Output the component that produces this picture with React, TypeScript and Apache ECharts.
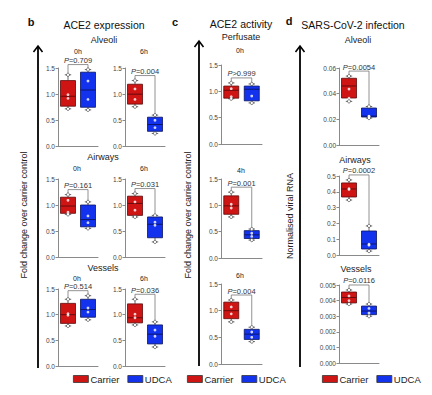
import React, { useEffect, useRef } from 'react';
import * as echarts from 'echarts';

const FONT = 'Liberation Sans, Arial, sans-serif';
const groups = ['Carrier', 'UDCA'];

// Box stats: [min, q1, median, q3, max]
const bAlveoli0hCarrier = [0.72, 0.77, 0.96, 1.26, 1.37];
const bAlveoli0hUDCA = [0.70, 0.75, 1.08, 1.42, 1.47];
const bAlveoli6hCarrier = [0.76, 0.81, 1.0, 1.19, 1.26];
const bAlveoli6hUDCA = [0.25, 0.29, 0.42, 0.56, 0.6];
const bAirways0hCarrier = [0.82, 0.84, 0.98, 1.15, 1.2];
const bAirways0hUDCA = [0.55, 0.58, 0.72, 1.0, 1.06];
const bAirways6hCarrier = [0.77, 0.8, 1.03, 1.17, 1.22];
const bAirways6hUDCA = [0.29, 0.37, 0.63, 0.77, 0.8];
const bVessels0hCarrier = [0.78, 0.83, 1.0, 1.22, 1.3];
const bVessels0hUDCA = [0.9, 0.95, 1.1, 1.3, 1.37];
const bVessels6hCarrier = [0.8, 0.84, 0.94, 1.21, 1.3];
const bVessels6hUDCA = [0.37, 0.43, 0.62, 0.8, 0.86];
const cPerfusate0hCarrier = [0.86, 0.87, 1.02, 1.1, 1.16];
const cPerfusate0hUDCA = [0.78, 0.82, 1.04, 1.1, 1.14];
const cPerfusate4hCarrier = [0.78, 0.83, 0.99, 1.18, 1.25];
const cPerfusate4hUDCA = [0.34, 0.37, 0.44, 0.52, 0.55];
const cPerfusate6hCarrier = [0.79, 0.85, 1.0, 1.16, 1.2];
const cPerfusate6hUDCA = [0.42, 0.46, 0.56, 0.65, 0.69];
const dAlveoliCarrier = [0.034, 0.0366, 0.046, 0.052, 0.0537];
const dAlveoliUDCA = [0.021, 0.0218, 0.0225, 0.0288, 0.03];
const dAirwaysCarrier = [0.348, 0.367, 0.418, 0.456, 0.475];
const dAirwaysUDCA = [0.025, 0.038, 0.07, 0.152, 0.184];
const dVesselsCarrier = [0.00378, 0.00385, 0.0042, 0.00455, 0.00468];
const dVesselsUDCA = [0.003, 0.0031, 0.00333, 0.00365, 0.00378];

// Inner data points
const bAlveoli0hCarrierPts = [0.99, 0.92];
const bAlveoli0hUDCAPts = [1.25, 0.9];
const bAlveoli6hCarrierPts = [1.1, 0.9];
const bAlveoli6hUDCAPts = [0.5, 0.36];
const bAirways0hCarrierPts = [1.09, 0.86];
const bAirways0hUDCAPts = [0.79, 0.66];
const bAirways6hCarrierPts = [1.06, 0.9];
const bAirways6hUDCAPts = [0.67, 0.61];
const bVessels0hCarrierPts = [1.02, 0.99];
const bVessels0hUDCAPts = [1.13, 1.05];
const bVessels6hCarrierPts = [1.01, 0.94];
const bVessels6hUDCAPts = [0.7, 0.58];
const cPerfusate0hCarrierPts = [1.05, 0.9];
const cPerfusate0hUDCAPts = [0.91];
const cPerfusate4hCarrierPts = [1.02, 0.95];
const cPerfusate4hUDCAPts = [0.47, 0.41];
const cPerfusate6hCarrierPts = [1.07, 0.94];
const cPerfusate6hUDCAPts = [0.6, 0.5];
const dAlveoliCarrierPts = [0.0436, 0.0365];
const dAlveoliUDCAPts = [0.0225, 0.0222];
const dAirwaysCarrierPts = [0.42, 0.415];
const dAirwaysUDCAPts = [0.068, 0.062];
const dVesselsCarrierPts = [0.0043, 0.004];
const dVesselsUDCAPts = [0.0035, 0.0032];

const pLabels = ['=0.709', '=0.004', '=0.161', '=0.031', '=0.514', '=0.036', '>0.999', '=0.001', '=0.004', '=0.0054', '=0.0002', '=0.0116'];

const foldScale = { max: 1.5, interval: 0.5, dec: 1 };
const dAlvScale = { max: 0.06, interval: 0.02, dec: 2 };
const dAwScale = { max: 0.5, interval: 0.1, dec: 1 };
const dVScale = { max: 0.005, interval: 0.001, dec: 3 };

const RED = '#cf1414';
const RED_EDGE = '#5c0a0a';
const BLUE = '#1232ee';
const BLUE_EDGE = '#0a1460';

const panels = [
  { c: bAlveoli0hCarrier, u: bAlveoli0hUDCA, cp: bAlveoli0hCarrierPts, up: bAlveoli0hUDCAPts, s: foldScale, left: 58, width: 40, top: 68, height: 78.5 },
  { c: bAlveoli6hCarrier, u: bAlveoli6hUDCA, cp: bAlveoli6hCarrierPts, up: bAlveoli6hUDCAPts, s: foldScale, left: 125, width: 40, top: 68, height: 78.5 },
  { c: bAirways0hCarrier, u: bAirways0hUDCA, cp: bAirways0hCarrierPts, up: bAirways0hUDCAPts, s: foldScale, left: 58, width: 40, top: 179, height: 78 },
  { c: bAirways6hCarrier, u: bAirways6hUDCA, cp: bAirways6hCarrierPts, up: bAirways6hUDCAPts, s: foldScale, left: 125, width: 40, top: 179, height: 78 },
  { c: bVessels0hCarrier, u: bVessels0hUDCA, cp: bVessels0hCarrierPts, up: bVessels0hUDCAPts, s: foldScale, left: 58, width: 40, top: 289, height: 77 },
  { c: bVessels6hCarrier, u: bVessels6hUDCA, cp: bVessels6hCarrierPts, up: bVessels6hUDCAPts, s: foldScale, left: 125, width: 40, top: 289, height: 77 },
  { c: cPerfusate0hCarrier, u: cPerfusate0hUDCA, cp: cPerfusate0hCarrierPts, up: cPerfusate0hUDCAPts, s: foldScale, left: 221, width: 41, top: 65, height: 79 },
  { c: cPerfusate4hCarrier, u: cPerfusate4hUDCA, cp: cPerfusate4hCarrierPts, up: cPerfusate4hUDCAPts, s: foldScale, left: 221, width: 41, top: 179, height: 79 },
  { c: cPerfusate6hCarrier, u: cPerfusate6hUDCA, cp: cPerfusate6hCarrierPts, up: cPerfusate6hUDCAPts, s: foldScale, left: 221, width: 41, top: 284, height: 80 },
  { c: dAlveoliCarrier, u: dAlveoliUDCA, cp: dAlveoliCarrierPts, up: dAlveoliUDCAPts, s: dAlvScale, left: 339, width: 40, top: 68, height: 77 },
  { c: dAirwaysCarrier, u: dAirwaysUDCA, cp: dAirwaysCarrierPts, up: dAirwaysUDCAPts, s: dAwScale, left: 339, width: 40, top: 176, height: 79 },
  { c: dVesselsCarrier, u: dVesselsUDCA, cp: dVesselsCarrierPts, up: dVesselsUDCAPts, s: dVScale, left: 339, width: 40, top: 285, height: 78 },
];

const renderBox = (fill: string, edge: string) => (params: any, api: any) => {
  const ci = api.value(0);
  const ys = [1, 2, 3, 4, 5].map((i) => api.coord([ci, api.value(i)])[1]);
  const cx = api.coord([ci, api.value(1)])[0];
  const hw = 7.5;
  const cw = 3.2;
  const wStyle = { stroke: '#444', lineWidth: 0.8 };
  return {
    type: 'group',
    children: [
      { type: 'line', shape: { x1: cx, y1: ys[4], x2: cx, y2: ys[3] }, style: wStyle },
      { type: 'line', shape: { x1: cx, y1: ys[1], x2: cx, y2: ys[0] }, style: wStyle },
      { type: 'line', shape: { x1: cx - cw, y1: ys[4], x2: cx + cw, y2: ys[4] }, style: wStyle },
      { type: 'line', shape: { x1: cx - cw, y1: ys[0], x2: cx + cw, y2: ys[0] }, style: wStyle },
      { type: 'rect', shape: { x: cx - hw, y: ys[3], width: hw * 2, height: ys[1] - ys[3] }, style: { fill, stroke: edge, lineWidth: 0.8 } },
      { type: 'line', shape: { x1: cx - hw, y1: ys[2], x2: cx + hw, y2: ys[2] }, style: { stroke: edge, lineWidth: 0.9 } },
      { type: 'circle', shape: { cx, cy: ys[4], r: 1.6 }, style: { fill: '#fff', stroke: '#444', lineWidth: 0.7 } },
      { type: 'circle', shape: { cx, cy: ys[0], r: 1.6 }, style: { fill: '#fff', stroke: '#444', lineWidth: 0.7 } },
    ],
  };
};

const txt = (text: string, x: number, y: number, size: number, extra: any = {}) => ({
  type: 'text',
  x,
  y,
  silent: true,
  style: {
    text,
    fontSize: size,
    fontFamily: FONT,
    fill: '#111',
    align: 'center',
    verticalAlign: 'middle',
    textAlign: 'center',
    textVerticalAlign: 'middle',
    ...extra,
  },
});

const arrow = (x: number, top: number, bottom: number) => [
  { type: 'line', shape: { x1: x, y1: top + 1, x2: x, y2: bottom }, style: { stroke: '#000', lineWidth: 1.8 } },
  { type: 'polyline', shape: { points: [[x - 4.5, top + 6], [x, top], [x + 4.5, top + 6]] }, style: { stroke: '#000', fill: 'none', lineWidth: 1.6 } },
];

export default function App() {
  const ref = useRef<HTMLDivElement>(null);
  useEffect(() => {
    const chart = echarts.init(ref.current!, undefined, { renderer: 'svg' });
    const grid: any[] = [];
    const xAxis: any[] = [];
    const yAxis: any[] = [];
    const series: any[] = [];
    panels.forEach((p, i) => {
      grid.push({ left: p.left, top: p.top, width: p.width, height: p.height });
      xAxis.push({
        type: 'category',
        gridIndex: i,
        data: groups,
        axisLine: { lineStyle: { color: '#8a8a8a', width: 1 } },
        axisTick: { show: false },
        axisLabel: { show: false },
      });
      yAxis.push({
        type: 'value',
        gridIndex: i,
        min: 0,
        max: p.s.max,
        interval: p.s.interval,
        splitLine: { show: false },
        axisLine: { show: true, lineStyle: { color: '#8a8a8a', width: 1 } },
        axisTick: { show: true, length: 2.5, lineStyle: { color: '#8a8a8a' } },
        axisLabel: {
          fontSize: 6.5,
          color: '#444',
          fontFamily: FONT,
          margin: 3,
          formatter: (v: number) => v.toFixed(p.s.dec),
        },
      });
      series.push({
        type: 'custom',
        name: 'Carrier',
        xAxisIndex: i,
        yAxisIndex: i,
        itemStyle: { color: RED, borderColor: RED_EDGE },
        renderItem: renderBox(RED, RED_EDGE),
        data: [[0, ...p.c]],
        z: 2,
      });
      series.push({
        type: 'custom',
        name: 'UDCA',
        xAxisIndex: i,
        yAxisIndex: i,
        itemStyle: { color: BLUE, borderColor: BLUE_EDGE },
        renderItem: renderBox(BLUE, BLUE_EDGE),
        data: [[1, ...p.u]],
        z: 2,
      });
      series.push({
        type: 'scatter',
        name: 'points',
        xAxisIndex: i,
        yAxisIndex: i,
        symbolSize: 2.8,
        itemStyle: { color: '#ffffff', borderWidth: 0 },
        data: [...p.cp.map((v) => [0, v]), ...p.up.map((v) => [1, v])],
        z: 3,
      });
    });

    const legendBase = {
      orient: 'horizontal',
      icon: 'rect',
      itemWidth: 15,
      itemHeight: 7,
      itemGap: 8,
      padding: 0,
      data: groups,
      selectedMode: false,
      itemStyle: { borderColor: '#333', borderWidth: 0.8 },
      textStyle: { fontSize: 9.5, color: '#222', fontFamily: FONT, padding: [0, 0, 0, -3] },
    };

    chart.setOption({
      animation: false,
      backgroundColor: '#ffffff',
      grid,
      xAxis,
      yAxis,
      series,
      legend: [
        { ...legendBase, left: 73, top: 374 },
        { ...legendBase, left: 187, top: 374 },
        { ...legendBase, left: 322, top: 374 },
      ],
    });

    const els: any[] = [
      txt('b', 31, 22, 11, { fontWeight: 'bold' }),
      txt('ACE2 expression', 104, 25, 10.5),
      txt('Alveoli', 104, 40, 9, { fill: '#222' }),
      txt('0h', 78, 51, 7, { fill: '#222' }),
      txt('6h', 144, 51, 7, { fill: '#222' }),
      txt('Airways', 103, 157, 9, { fill: '#222' }),
      txt('0h', 77, 168, 7, { fill: '#222' }),
      txt('6h', 144, 168, 7, { fill: '#222' }),
      txt('Vessels', 103, 268, 9, { fill: '#222' }),
      txt('0h', 77, 278, 7, { fill: '#222' }),
      txt('6h', 144, 278, 7, { fill: '#222' }),
      txt('c', 175, 22, 11, { fontWeight: 'bold' }),
      txt('ACE2 activity', 241, 24, 10.5),
      txt('Perfusate', 241, 37, 9, { fill: '#222' }),
      txt('0h', 240, 50, 7, { fill: '#222' }),
      txt('4h', 241, 170, 7, { fill: '#222' }),
      txt('6h', 240, 275, 7, { fill: '#222' }),
      txt('d', 289, 21, 11, { fontWeight: 'bold' }),
      txt('SARS-CoV-2 infection', 353, 25, 10.5),
      txt('Alveoli', 358, 40, 9, { fill: '#222' }),
      txt('Airways', 355, 160, 9, { fill: '#222' }),
      txt('Vessels', 356, 269, 9, { fill: '#222' }),
      { ...txt('Fold change over carrier control', 24, 215, 9, { fill: '#222' }), rotation: Math.PI / 2 },
      { ...txt('Fold change over carrier control', 188, 215, 9, { fill: '#222' }), rotation: Math.PI / 2 },
      { ...txt('Normalised viral RNA', 290, 216, 9, { fill: '#222' }), rotation: Math.PI / 2 },
      ...arrow(38, 46, 368),
      ...arrow(199, 41, 366),
      ...arrow(300, 46, 367),
    ];

    panels.forEach((p, i) => {
      const a = chart.convertToPixel({ gridIndex: i }, [0, p.c[4]]) as number[];
      const b = chart.convertToPixel({ gridIndex: i }, [1, p.u[4]]) as number[];
      const by = Math.min(a[1], b[1]) - 5;
      els.push({
        type: 'polyline',
        silent: true,
        shape: { points: [[a[0], a[1] - 1.6], [a[0], by], [b[0], by], [b[0], b[1] - 1.6]] },
        style: { stroke: '#777', fill: 'none', lineWidth: 0.8 },
      });
      els.push({
        type: 'text',
        x: (a[0] + b[0]) / 2,
        y: by - 4,
        silent: true,
        style: {
          text: '{i|P}' + pLabels[i],
          fontSize: 7.5,
          fontFamily: FONT,
          fill: '#333',
          align: 'center',
          verticalAlign: 'middle',
          textAlign: 'center',
          textVerticalAlign: 'middle',
          rich: { i: { fontStyle: 'italic', fontSize: 7.5, fontFamily: FONT, fill: '#333' } },
        },
      });
    });

    chart.setOption({ graphic: els });
    return () => chart.dispose();
  }, []);
  return <div ref={ref} style={{ position: 'fixed', left: 0, top: 0, width: 432, height: 395 }} />;
}
